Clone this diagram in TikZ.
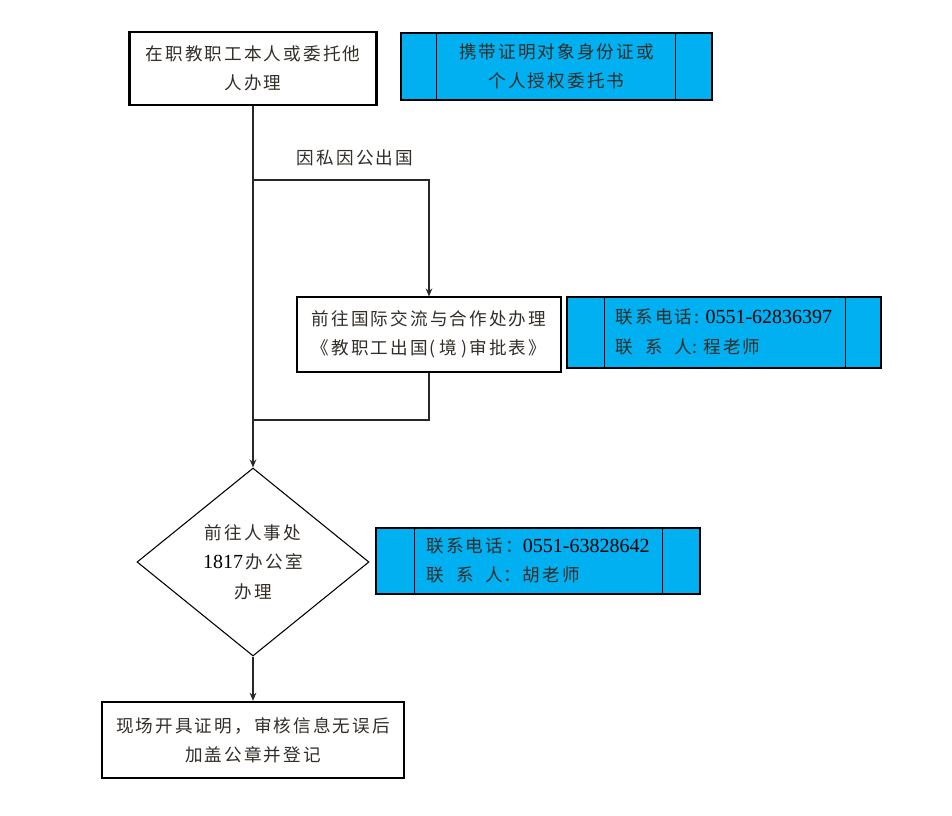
\documentclass[tikz,border=0pt]{standalone}
\usepackage{fontspec}
\setmainfont{Liberation Serif}
\newfontfamily\cjk[LetterSpace=12]{Noto Sans CJK SC}
\newfontfamily\lat{Liberation Serif}
\usetikzlibrary{shapes.geometric,arrows.meta}
\definecolor{fillblue}{RGB}{0,176,240}
\definecolor{txtgray}{RGB}{50,45,40}
\definecolor{linegray}{RGB}{40,40,40}
\newcommand\lxr{\setbox0\hbox{\cjk 联系电话}\hbox to \wd0{\cjk 联\hfill 系\hfill 人}}
\newcommand\num[1]{{\lat\color{black}\fontsize{15}{22}\selectfont #1}}
\tikzset{
  txt/.style={font=\cjk\fontsize{13.2}{22}\selectfont, text=txtgray, align=center, inner sep=0pt},
  thickbox/.style={txt, draw=black, line width=1.8pt, rectangle},
  thinbox/.style={txt, draw=black, line width=0.8pt, rectangle},
  bluebox/.style={txt, draw=black, line width=0.8pt, fill=fillblue, rectangle},
  conn/.style={draw=linegray, line width=1.1pt},
  arr/.style={conn, -{Stealth[length=6pt,width=5pt]}}
}
\begin{document}
\begin{tikzpicture}[x=0.75pt,y=-0.75pt]
\useasboundingbox (0,0) rectangle (952,815);

\node[thickbox, minimum width=185.25pt, minimum height=54.75pt] (box1) at (253,68.5)
  {在职教职工本人或委托他\\人办理};

\node[bluebox, minimum width=233.25pt, minimum height=50.25pt] (blue1) at (556.5,66.5)
  {携带证明对象身份证或\\个人授权委托书};
\draw[line width=0.8pt] ([xshift=27pt]blue1.north west) -- ([xshift=27pt]blue1.south west);
\draw[line width=0.8pt] ([xshift=-27.75pt]blue1.north east) -- ([xshift=-27.75pt]blue1.south east);

\node[txt] (lbl) at (355,158) {因私因公出国};

\node[thinbox, minimum width=198pt, minimum height=56.25pt] (box2) at (429,334.5)
  {前往国际交流与合作处办理\\《教职工出国(\hspace{3pt}境\hspace{3pt})审批表》};

\node[bluebox, minimum width=235.5pt, minimum height=53.25pt] (blue2) at (724,332.5)
  {\begin{tabular}{@{}l@{}}联系电话:\ \num{0551-62836397}\\ \lxr:\ 程老师\end{tabular}};
\draw[line width=0.8pt] ([xshift=28.5pt]blue2.north west) -- ([xshift=28.5pt]blue2.south west);
\draw[line width=0.8pt] ([xshift=-27pt]blue2.north east) -- ([xshift=-27pt]blue2.south east);

\node[txt, draw=black, line width=0.8pt, shape=diamond, minimum width=174pt, minimum height=141pt] (dia) at (253,562)
  {前往人事处\\\num{1817}\,办公室\\办理};

\node[bluebox, minimum width=243pt, minimum height=49.5pt] (blue3) at (538,561)
  {\begin{tabular}{@{}l@{}}联系电话：\num{0551-63828642}\\ \lxr：胡老师\end{tabular}};
\draw[line width=0.8pt] ([xshift=29.25pt]blue3.north west) -- ([xshift=29.25pt]blue3.south west);
\draw[line width=0.8pt] ([xshift=-28.5pt]blue3.north east) -- ([xshift=-28.5pt]blue3.south east);

\node[thickbox, minimum width=226.5pt, minimum height=57pt] (box4) at (253,740)
  {现场开具证明，审核信息无误后\\加盖公章并登记};

\coordinate (br1) at (253,180);
\coordinate (br2) at (253,420);
\draw[arr] (box1.south) -- (dia.north);
\draw[arr] (br1) -| (box2.north);
\draw[conn] (box2.south) |- (br2);
\draw[arr] (dia.south) -- (box4.north);
\end{tikzpicture}
\end{document}
